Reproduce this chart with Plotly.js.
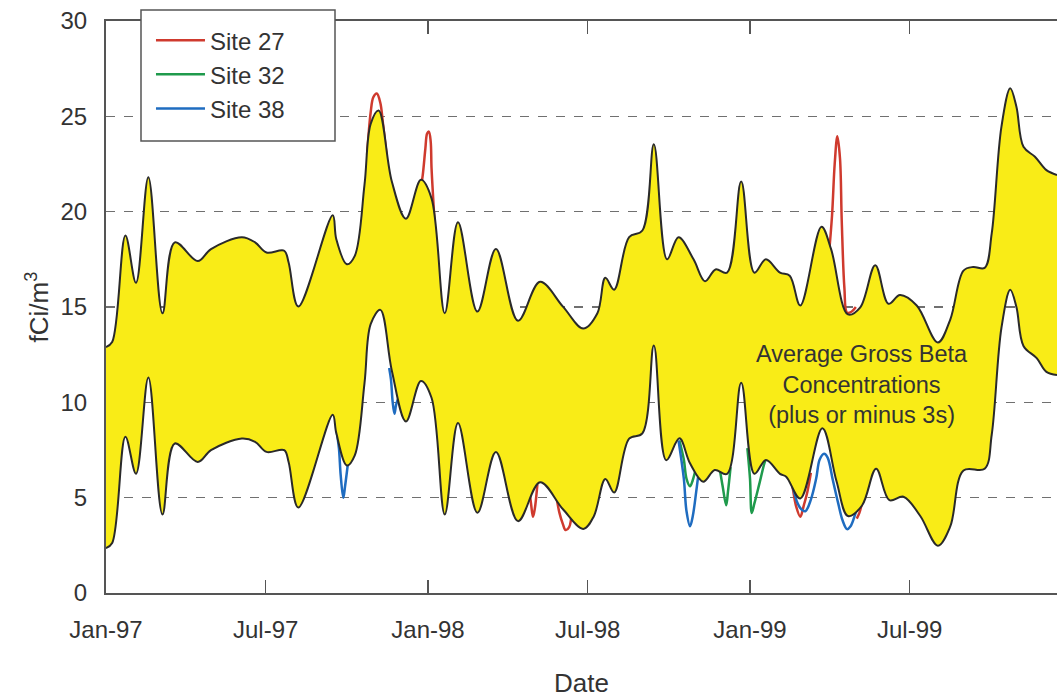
<!DOCTYPE html>
<html>
<head>
<meta charset="utf-8">
<script src="https://cdn.plot.ly/plotly-3.0.1.min.js"></script>
<style>html,body{margin:0;padding:0;background:#fff;}#chart{width:1057px;height:698px;}</style>
</head>
<body>
<div id="chart"></div>
<script>
// Upper envelope (average + 3s)
var upperDates = ['1997-01-01','1997-01-08','1997-01-23','1997-02-04','1997-02-18','1997-03-06','1997-03-20','1997-04-15','1997-04-30','1997-06-04','1997-06-19','1997-07-02','1997-07-22','1997-07-27','1997-08-07','1997-09-15','1997-09-19','1997-10-01','1997-10-10','1997-10-21','1997-10-28','1997-11-06','1997-11-21','1997-12-07','1997-12-24',
  '1998-01-05','1998-01-20','1998-02-04','1998-02-26','1998-03-19','1998-04-13','1998-05-08','1998-06-03','1998-06-26','1998-07-12','1998-07-21','1998-07-31','1998-08-17','1998-09-01','1998-09-14','1998-09-29','1998-10-12','1998-10-29','1998-11-11','1998-11-23','1998-12-06','1998-12-22',
  '1999-01-06','1999-01-19','1999-02-04','1999-02-15','1999-02-27','1999-03-23','1999-04-03','1999-04-22','1999-05-06','1999-05-23','1999-06-07','1999-06-20','1999-07-09','1999-08-02','1999-08-16','1999-08-31','1999-09-11','1999-09-24','1999-10-02','1999-10-13','1999-10-23','1999-10-30','1999-11-07','1999-11-20','1999-12-03','1999-12-15'];
var upperVals = [12.9,13.16,18.75,16.27,21.81,14.67,18.39,17.41,18.04,18.66,18.39,17.86,17.95,17.33,15.02,19.81,18.57,17.24,17.68,21.4,24.6,25.31,21.58,19.63,21.67,
  20.7,14.67,19.45,14.76,18.04,14.28,16.32,15.02,13.87,14.67,16.53,15.91,18.66,19.01,23.53,17.5,18.66,17.5,16.35,16.97,16.8,21.58,
  16.8,17.5,16.8,16.64,15.08,19.21,18.02,14.61,14.98,17.19,15.17,15.63,15.08,13.14,14.34,16.91,17.1,17.05,18.86,24.45,26.47,25.5,23.4,22.88,22.18,21.92];

// Lower envelope (average - 3s)
var lowerDates = ['1997-01-01','1997-01-08','1997-01-23','1997-02-04','1997-02-18','1997-03-06','1997-03-20','1997-04-15','1997-04-30','1997-06-04','1997-06-19','1997-07-02','1997-07-22','1997-07-27','1997-08-07','1997-09-15','1997-09-19','1997-10-01','1997-10-10','1997-10-21','1997-10-28','1997-11-08','1997-11-21','1997-12-07','1997-12-24',
  '1998-01-05','1998-01-20','1998-02-04','1998-02-26','1998-03-19','1998-04-13','1998-05-08','1998-06-03','1998-06-26','1998-07-08','1998-07-21','1998-07-31','1998-08-17','1998-09-01','1998-09-14','1998-09-28','1998-10-13','1998-10-25','1998-11-09','1998-11-22','1998-12-06','1998-12-22',
  '1999-01-06','1999-01-19','1999-02-04','1999-02-11','1999-02-27','1999-03-24','1999-04-09','1999-04-22','1999-05-08','1999-05-24','1999-06-08','1999-06-24','1999-07-13','1999-08-02','1999-08-16','1999-08-31','1999-09-24','1999-10-02','1999-10-13','1999-10-23','1999-10-30','1999-11-07','1999-11-22','1999-12-03','1999-12-15'];
var lowerVals = [2.35,2.62,8.2,6.25,11.3,4.12,7.84,6.87,7.49,8.1,7.93,7.4,7.49,6.87,4.48,9.35,8.4,6.69,7.22,11.0,14.1,14.85,11.66,9.0,11.12,
  10.24,4.12,8.91,4.21,7.4,3.77,5.81,4.39,3.36,4.03,5.98,5.27,8.1,8.37,12.98,6.97,8.11,6.8,5.84,6.45,6.25,11.03,
  6.25,6.97,6.25,6.1,4.96,8.64,5.87,4.04,4.59,6.52,4.87,5.05,4.04,2.48,3.49,6.43,6.52,8.3,13.9,15.9,15.0,12.96,12.32,11.6,11.43];

// Site readings where they leave the band (null = hidden inside band)
var site27Dates = ['1997-10-24','1997-10-28','1997-10-31','1997-11-04','1997-11-08','1997-11-11','1997-11-15',null,
  '1997-12-23','1997-12-26','1997-12-29','1997-12-31','1998-01-02','1998-01-04','1998-01-05','1998-01-07','1998-01-09','1998-01-11',null,
  '1998-04-25','1998-04-28','1998-04-30','1998-05-02','1998-05-05',null,
  '1998-05-26','1998-05-30','1998-06-03','1998-06-06','1998-06-10','1998-06-13',null,
  '1999-02-14','1999-02-18','1999-02-22','1999-02-27','1999-03-03','1999-03-07','1999-03-11',null,
  '1999-03-31','1999-04-04','1999-04-07','1999-04-10','1999-04-13','1999-04-15','1999-04-18','1999-04-21','1999-04-26','1999-05-01',null,
  '1999-05-02','1999-05-05','1999-05-08','1999-05-11','1999-05-13'];
var site27Vals = [23.0,25.2,26.0,26.2,25.7,24.6,23.0,null,
  21.0,21.9,23.3,24.1,24.2,23.7,22.3,20.6,19.0,17.3,null,
  5.8,4.6,4.0,4.4,5.7,null,
  5.2,4.2,3.6,3.3,3.45,4.3,null,
  6.3,5.6,4.6,4.0,4.6,5.3,6.3,null,
  17.5,19.8,22.5,23.95,22.8,19.5,16.0,14.7,14.75,15.0,null,
  3.9,4.2,4.7,5.1,5.4];

var site32Dates = ['1998-10-13','1998-10-18','1998-10-21','1998-10-25','1998-10-28','1998-11-02',null,
  '1998-11-27','1998-12-01','1998-12-05','1998-12-07','1998-12-10',null,
  '1998-12-29','1999-01-01','1999-01-03','1999-01-06','1999-01-12','1999-01-18','1999-01-21'];
var site32Vals = [8.0,7.0,6.0,5.6,5.9,6.8,null,
  6.7,5.6,4.6,5.3,6.6,null,
  7.6,6.0,4.2,4.7,5.8,6.9,7.2];

var site38Dates = ['1997-09-19','1997-09-22','1997-09-24','1997-09-27','1997-09-29','1997-10-02','1997-10-04',null,
  '1997-11-18','1997-11-20','1997-11-22','1997-11-24','1997-11-26','1997-11-30',null,
  '1998-10-12','1998-10-18','1998-10-21','1998-10-25','1998-10-28','1998-11-01','1998-11-04',null,
  '1999-02-14','1999-02-20','1999-02-24','1999-03-01','1999-03-05','1999-03-11','1999-03-17','1999-03-21','1999-03-26','1999-03-30','1999-04-05','1999-04-11','1999-04-16','1999-04-21','1999-04-25','1999-04-30','1999-05-04'];
var site38Vals = [8.6,7.6,6.2,5.0,5.6,6.7,7.5,null,
  11.8,11.2,10.0,9.4,9.9,10.4,null,
  8.0,6.0,4.3,3.5,4.0,5.3,6.4,null,
  6.4,5.3,4.7,4.35,4.3,4.9,6.0,7.0,7.3,7.1,5.9,4.7,3.8,3.35,3.5,4.1,4.8];

var tickDates = ['1997-01-01','1997-07-01','1998-01-01','1998-07-01','1999-01-01','1999-07-01'];
var tickLabels = ['Jan-97','Jul-97','Jan-98','Jul-98','Jan-99','Jul-99'];
var yTicks = [0,5,10,15,20,25,30];

function site(name, x, y, color) {
  return {type:'scatter', mode:'lines', name:name, x:x, y:y, connectgaps:false,
    line:{color:color, width:2.5, shape:'spline', smoothing:1}, hoverinfo:'skip'};
}

var data = [
  site('Site 27', site27Dates, site27Vals, '#cf3a2e'),
  site('Site 32', site32Dates, site32Vals, '#1f9a4c'),
  site('Site 38', site38Dates, site38Vals, '#1f6cc0'),
  {type:'scatter', mode:'lines', x:lowerDates, y:lowerVals, showlegend:false, hoverinfo:'skip',
    line:{color:'#2a2a2a', width:2, shape:'spline', smoothing:1}},
  {type:'scatter', mode:'lines', x:upperDates, y:upperVals, showlegend:false, hoverinfo:'skip',
    fill:'tonexty', fillcolor:'#f9ec17',
    line:{color:'#2a2a2a', width:2, shape:'spline', smoothing:1}}
];

var layout = {
  width:1057, height:698,
  margin:{l:106, r:0, t:21, b:105, pad:0},
  paper_bgcolor:'#ffffff', plot_bgcolor:'#ffffff',
  font:{family:'Liberation Sans, Arial, Helvetica, sans-serif', color:'#333333', size:25},
  showlegend:true,
  legend:{x:0.0473, y:1.0052, xanchor:'left', yanchor:'top', bgcolor:'rgba(0,0,0,0)',
    borderwidth:0, font:{size:24, color:'#333333'}, tracegroupgap:0, traceorder:'normal', itemwidth:49},
  shapes:[{type:'rect', xref:'paper', yref:'paper', x0:0.0368, x1:0.2408, y0:0.7902, y1:1.0192,
    line:{color:'#555555', width:1.5}, fillcolor:'#ffffff', layer:'above'}],
  xaxis:{type:'date', range:['1997-01-01','1999-12-15'], tickmode:'array', tickvals:tickDates, ticktext:tickLabels,
    ticks:'inside', ticklen:13, tickwidth:1.5, tickcolor:'#555555',
    showline:true, linecolor:'#555555', linewidth:2, mirror:'ticks',
    showgrid:false, zeroline:false, fixedrange:true,
    tickfont:{size:24, color:'#333333'}, ticklabelstandoff:14,
    title:{text:'Date', font:{size:26, color:'#333333'}, standoff:32}},
  yaxis:{range:[0,30], tickmode:'array', tickvals:yTicks, ticks:'',
    showline:true, linecolor:'#555555', linewidth:2, mirror:false,
    showgrid:true, gridcolor:'#707070', gridwidth:1.2, griddash:'dash', zeroline:false, fixedrange:true,
    tickfont:{size:24, color:'#333333'}, ticklabelstandoff:12,
    title:{text:'fCi/m<sup>3</sup>', font:{size:26, color:'#333333'}, standoff:4}},
  annotations:[{xref:'paper', yref:'paper', x:0.795, y:0.365, xanchor:'center', yanchor:'middle',
    text:'Average Gross Beta<br>Concentrations<br>(plus or minus 3s)', showarrow:false, align:'center',
    font:{size:23.5, color:'#333333'}}]
};

Plotly.newPlot('chart', data, layout, {displayModeBar:false, staticPlot:true});
</script>
</body>
</html>
